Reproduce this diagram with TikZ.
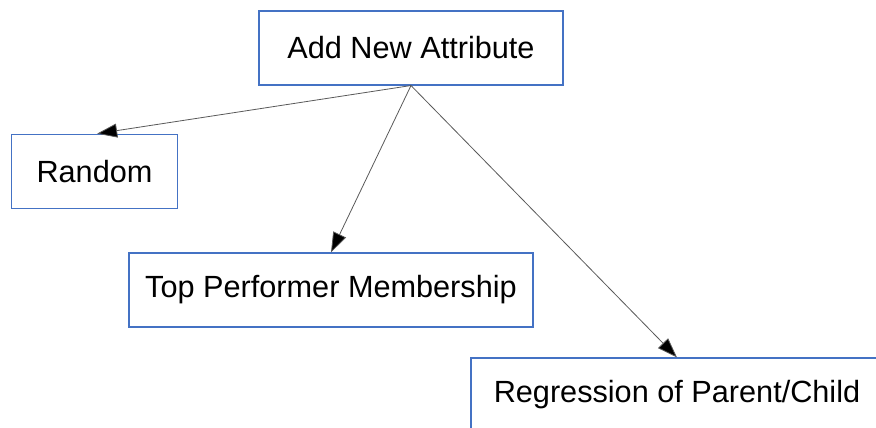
\documentclass[tikz,border=0pt]{standalone}
\usepackage{fontspec}
\setmainfont{Liberation Sans}
\usetikzlibrary{arrows.meta}
\definecolor{boxblue}{RGB}{68,114,196}
\begin{document}
\begin{tikzpicture}[x=0.75pt,y=0.75pt,yscale=-1,xscale=1,
	box/.style={draw=boxblue,line width=0.8pt,inner sep=0pt,minimum height=55.5pt,font=\fontsize{23}{27}\selectfont},
	arr/.style={draw=black!65,line width=0.6pt,-{Triangle[length=15pt,width=10.5pt,fill=black]}}]
	\clip (0,0) rectangle (876,428);

	\node [box,minimum width=228pt] (attr) at (411,48) {Add New Attribute};
	\node [box,minimum width=125pt,minimum height=56pt] (random) at (94.5,171.5) {Random};
	\node [box,minimum width=303pt] (topperf) at (331,290) {Top Performer Membership};
	\node [box,minimum width=309pt] (regress) at (677,395) {Regression of Parent/Child};

	\draw [arr] (attr.south) -- ([xshift=2pt]random.north);
	\draw [arr] (attr.south) -- (topperf.north);
	\draw [arr] (attr.south) -- (regress.north);
\end{tikzpicture}
\end{document}
